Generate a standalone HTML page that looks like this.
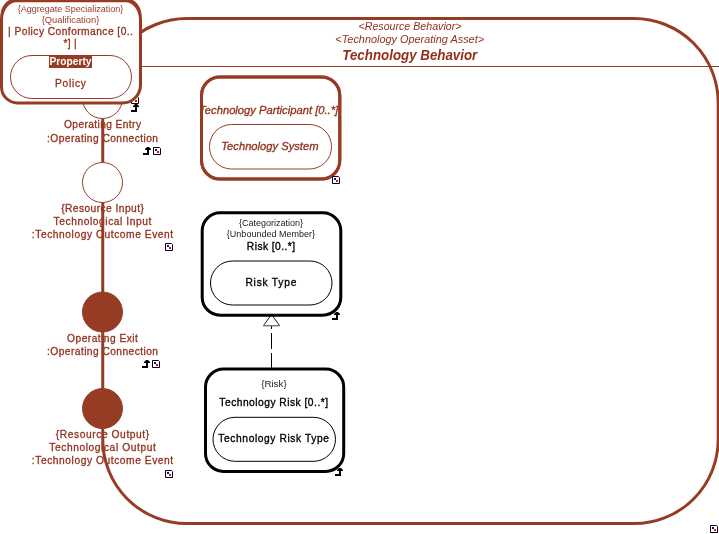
<!DOCTYPE html>
<html><head><meta charset="utf-8">
<style>
html,body{margin:0;padding:0;background:#fff;width:719px;height:534px;overflow:hidden}
svg{position:absolute;left:0;top:0;display:block;will-change:transform}
text{font-family:"Liberation Sans",sans-serif}
.b{fill:#922F1A}
.lb{fill:#922F1A;stroke:#922F1A;stroke-width:0.3px}
.k{fill:#000;stroke:#000;stroke-width:0.35px}
.g{fill:#1a1a1a}
.gb{fill:#9A3A25}
.m{text-anchor:middle}
</style></head>
<body>
<svg width="719" height="534" viewBox="0 0 719 534">
<defs>
<g id="sq">
<path d="M0.5 0.5H6.5L7.5 1.5V7.5H0.5Z" fill="#fff" stroke="#000" stroke-width="1"/>
<rect x="2" y="2" width="2" height="2" fill="#00f"/>
<rect x="4" y="4" width="2" height="2" fill="#f00"/>
</g>
<g id="ar">
<path d="M4 0H6L8 2V3H2V2Z" fill="#000"/>
<rect x="4" y="3" width="2" height="5" fill="#000"/>
<rect x="0" y="6" width="6" height="2" fill="#000"/>
</g>
</defs>

<!-- left column labels -->
<g font-size="11">
<text class="lb m" x="0" y="128" transform="translate(102.5,0) scale(0.93,1)" textLength="82.85" lengthAdjust="spacing">Operating Entry</text>
<text class="lb m" x="0" y="142.2" transform="translate(102.5,0) scale(0.93,1)" textLength="119.35" lengthAdjust="spacing">:Operating Connection</text>
<text class="lb m" x="0" y="212" transform="translate(102.5,0) scale(0.93,1)" textLength="88.92" lengthAdjust="spacing">{Resource Input}</text>
<text class="lb m" x="0" y="224.8" transform="translate(102.5,0) scale(0.93,1)" textLength="105.16" lengthAdjust="spacing">Technological Input</text>
<text class="lb m" x="0" y="237.6" transform="translate(102.5,0) scale(0.93,1)" textLength="152.04" lengthAdjust="spacing">:Technology Outcome Event</text>
<text class="lb m" x="0" y="342" transform="translate(102.5,0) scale(0.93,1)" textLength="76.13" lengthAdjust="spacing">Operating Exit</text>
<text class="lb m" x="0" y="355" transform="translate(102.5,0) scale(0.93,1)" textLength="119.35" lengthAdjust="spacing">:Operating Connection</text>
<text class="lb m" x="0" y="437.6" transform="translate(102.5,0) scale(0.93,1)" textLength="100.32" lengthAdjust="spacing">{Resource Output}</text>
<text class="lb m" x="0" y="450.6" transform="translate(102.5,0) scale(0.93,1)" textLength="114.52" lengthAdjust="spacing">Technological Output</text>
<text class="lb m" x="0" y="463.6" transform="translate(102.5,0) scale(0.93,1)" textLength="152.04" lengthAdjust="spacing">:Technology Outcome Event</text>
</g>

<!-- big rounded rect -->
<rect x="102.75" y="18.6" width="615.45" height="505" rx="84" ry="84" fill="none" stroke="#963C25" stroke-width="3"/>
<line x1="140" y1="66.5" x2="719" y2="66.5" stroke="#963C25" stroke-width="1.2"/>

<!-- header -->
<text class="b m" x="410" y="29.7" font-size="10.5" font-style="italic" textLength="103" lengthAdjust="spacingAndGlyphs">&lt;Resource Behavior&gt;</text>
<text class="b m" x="409.7" y="43" font-size="10.5" font-style="italic" textLength="148.7" lengthAdjust="spacingAndGlyphs">&lt;Technology Operating Asset&gt;</text>
<text class="b m" x="409.8" y="59.8" font-size="14.8" font-weight="bold" font-style="italic" textLength="135" lengthAdjust="spacingAndGlyphs">Technology Behavior</text>

<!-- circles -->
<circle cx="102.5" cy="98.5" r="20" fill="#fff" stroke="#963C25" stroke-width="1"/>
<circle cx="102.5" cy="182.5" r="20" fill="#fff" stroke="#963C25" stroke-width="1"/>
<circle cx="102.5" cy="312" r="20" fill="#963C25" stroke="#963C25" stroke-width="1"/>
<circle cx="102.5" cy="408.5" r="20" fill="#963C25" stroke="#963C25" stroke-width="1"/>

<!-- icons (under boxes) -->
<use href="#sq" x="131" y="96"/>
<use href="#ar" x="131" y="104"/>
<use href="#ar" x="143" y="147"/>
<use href="#sq" x="153" y="147"/>
<use href="#sq" x="165" y="243"/>
<use href="#ar" x="142" y="360"/>
<use href="#sq" x="152" y="360"/>
<use href="#sq" x="165" y="470"/>
<use href="#ar" x="332" y="312"/>
<use href="#ar" x="335" y="468"/>
<use href="#sq" x="710" y="525"/>

<!-- Policy conformance box -->
<path d="M1.5 19.8A15 19 0 0 1 16.5 0.8H125.5A15 19 0 0 1 140.5 19.8V85A18 18 0 0 1 122.5 103H17.5A16 16 0 0 1 1.5 87Z" fill="#fff" stroke="#963C25" stroke-width="3"/>
<path d="M1.5 16A15 16 0 0 1 16.5 -1H125.5A15 16 0 0 1 140.5 16" fill="none" stroke="#963C25" stroke-width="1.6"/>
<text class="gb m" x="70.5" y="11.8" font-size="9">{Aggregate Specialization}</text>
<text class="gb m" x="70.5" y="22.8" font-size="9" textLength="57.5" lengthAdjust="spacingAndGlyphs">{Qualification}</text>
<text class="lb m" x="0" y="35.4" font-size="11" transform="translate(70.5,0) scale(0.93,1)" textLength="134.19" lengthAdjust="spacing">| Policy Conformance [0..</text>
<text class="lb m" x="0" y="47" font-size="11" transform="translate(70.0,0) scale(0.93,1)" textLength="14.27" lengthAdjust="spacing">*] |</text>
<rect x="10.5" y="55.5" width="121" height="43" rx="21.5" ry="21.5" fill="#fff" stroke="#963C25" stroke-width="1"/>
<rect x="49" y="56" width="43" height="12" fill="#963C25"/>
<text class="m" x="70.5" y="64.6" font-size="10.5" font-weight="bold" fill="#fff" textLength="42" lengthAdjust="spacingAndGlyphs">Property</text>
<text class="lb m" x="0" y="87" font-size="11" transform="translate(70.5,0) scale(0.93,1)" textLength="33.33" lengthAdjust="spacing">Policy</text>

<!-- Technology Participant -->
<rect x="201.5" y="77" width="138.3" height="102.1" rx="18.5" ry="18.5" fill="#fff" stroke="#963C25" stroke-width="3"/>
<text class="lb m" x="268.6" y="113.7" font-size="11" font-style="italic" textLength="139.2" lengthAdjust="spacingAndGlyphs">Technology Participant [0..*]</text>
<rect x="209.5" y="124.5" width="122" height="44.5" rx="22" ry="22" fill="#fff" stroke="#963C25" stroke-width="1"/>
<text class="lb m" x="269.9" y="149.8" font-size="11" font-style="italic" textLength="97.2" lengthAdjust="spacingAndGlyphs">Technology System</text>
<rect x="201.5" y="77" width="138.3" height="102.1" rx="18.5" ry="18.5" fill="none" stroke="#963C25" stroke-width="3"/>
<use href="#sq" x="332" y="176"/>

<!-- generalization -->
<line x1="271.5" y1="369" x2="271.5" y2="326" stroke="#000" stroke-width="1" stroke-dasharray="16 4"/>
<path d="M271.5 314.5L279.5 325.5H263.5Z" fill="#fff" stroke="#222" stroke-width="1"/>
<line x1="263.5" y1="325.7" x2="279.5" y2="325.7" stroke="#777" stroke-width="1.4"/>
<!-- Risk -->
<rect x="202.2" y="212.8" width="138.6" height="102.4" rx="18" ry="18" fill="#fff" stroke="#000" stroke-width="3"/>
<text class="g m" x="271" y="226" font-size="9">{Categorization}</text>
<text class="g m" x="270.9" y="236.5" font-size="9">{Unbounded Member}</text>
<text class="k m" x="0" y="250" font-size="11" transform="translate(271.0,0) scale(0.93,1)" textLength="51.94" lengthAdjust="spacing">Risk [0..*]</text>
<rect x="210.5" y="261" width="121.5" height="44" rx="22" ry="22" fill="#fff" stroke="#000" stroke-width="1"/>
<text class="k m" x="0" y="285.9" font-size="11" transform="translate(270.9,0) scale(0.93,1)" textLength="54.73" lengthAdjust="spacing">Risk Type</text>


<!-- Technology Risk -->
<rect x="205.5" y="369.1" width="138.2" height="102.3" rx="18" ry="18" fill="#fff" stroke="#000" stroke-width="3"/>
<text class="g m" x="273.9" y="387" font-size="9" textLength="25.5" lengthAdjust="spacingAndGlyphs">{Risk}</text>
<text class="k m" x="0" y="405.6" font-size="11" transform="translate(273.7,0) scale(0.93,1)" textLength="116.88" lengthAdjust="spacing">Technology Risk [0..*]</text>
<rect x="213" y="417.3" width="122.5" height="44" rx="22" ry="22" fill="#fff" stroke="#000" stroke-width="1"/>
<text class="k m" x="0" y="442" font-size="11" transform="translate(273.7,0) scale(0.93,1)" textLength="119.03" lengthAdjust="spacing">Technology Risk Type</text>
</svg>
</body></html>
